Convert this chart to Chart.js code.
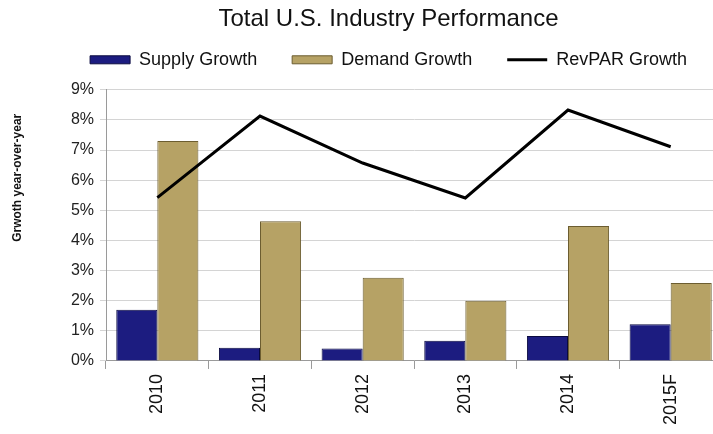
<!DOCTYPE html>
<html>
<head>
<meta charset="utf-8">
<title>Total U.S. Industry Performance</title>
<script src="https://cdn.jsdelivr.net/npm/chart.js@4/dist/chart.umd.min.js"></script>
<style>
	html, body { margin: 0; padding: 0; background: #fff; overflow: hidden; }
	/* the source picture cuts the last category a little short */
	#wrap { width: 722px; height: 434px; position: relative; }
</style>
</head>
<body>
<div id="wrap"><canvas id="bar-chartcanvas"></canvas></div>
<script>
var years = ["2010", "2011", "2012", "2013", "2014", "2015F"];
var supplyGrowth = [1.70, 0.44, 0.41, 0.67, 0.83, 1.22];
var demandGrowth = [7.30, 4.64, 2.76, 2.00, 4.48, 2.59];
var revparGrowth = [5.42, 8.13, 6.57, 5.41, 8.33, 7.11];
var yTicks = [0, 1, 2, 3, 4, 5, 6, 7, 8, 9];

var font = "Arial, 'Liberation Sans', sans-serif";

// vertical axis title sits a bit above the middle in the original
var yTitle = {
	id : "yTitle",
	afterInit : function(chart) {
		// a bit more room between legend and plot
		var lg = chart.legend;
		var fit = lg.fit;
		lg.fit = function() {
			fit.apply(this, arguments);
			this.height += 11;
		};
	},
	afterDraw : function(chart) {
		var c = chart.ctx;
		var a = chart.chartArea;
		c.save();
		c.translate(18, a.top + 88);
		c.rotate(-Math.PI / 2);
		c.font = "bold 12px " + font;
		c.fillStyle = "#111";
		c.textAlign = "center";
		c.textBaseline = "middle";
		c.fillText("Grwoth year-over-year", 0, 0);
		c.restore();
	}
};

var ctx = document.getElementById("bar-chartcanvas");

var data = {
	labels : years,
	datasets : [
		{
			label : "Supply Growth",
			data : supplyGrowth,
			backgroundColor : "#1c1c80",
			borderColor : "#0a0a40",
			borderWidth : 1,
			pointStyle : "rect",
			order : 1
		},
		{
			label : "Demand Growth",
			data : demandGrowth,
			backgroundColor : "#b6a265",
			borderColor : "#6c5d30",
			borderWidth : 1,
			pointStyle : "rect",
			order : 1
		},
		{
			type : "line",
			label : "RevPAR Growth",
			data : revparGrowth,
			borderColor : "#000",
			backgroundColor : "#000",
			borderWidth : 3,
			tension : 0,
			pointRadius : 0,
			pointStyle : "line",
			order : 0
		}
	]
};

var options = {
	responsive : true,
	maintainAspectRatio : false,
	animation : false,
	layout : {
		padding : { left : 55, right : 0, top : 0, bottom : 4 }
	},
	datasets : {
		bar : { categoryPercentage : 0.8, barPercentage : 1.0 }
	},
	plugins : {
		title : {
			display : true,
			text : "Total U.S. Industry Performance",
			color : "#111",
			font : { family : font, size : 24, weight : "normal" },
			padding : { top : 5, bottom : 7 }
		},
		legend : {
			display : true,
			position : "top",
			labels : {
				usePointStyle : true,
				pointStyleWidth : 40,
				boxHeight : 8,
				padding : 10,
				color : "#111",
				font : { family : font, size : 18 },
				generateLabels : function(chart) {
					var items = Chart.defaults.plugins.legend.labels.generateLabels(chart);
					// keep dataset order, not draw order
					items.sort(function(a, b) { return a.datasetIndex - b.datasetIndex; });
					items.forEach(function(it) {
						if (it.text != "RevPAR Growth") it.text = it.text + "     ";
					});
					return items;
				}
			}
		},
		tooltip : { enabled : false }
	},
	scales : {
		x : {
			grid : {
				display : true,
				drawOnChartArea : false,
				tickLength : 8,
				color : "#9a9a9a"
			},
			border : { color : "#9a9a9a" },
			ticks : {
				minRotation : 90,
				maxRotation : 90,
				color : "#111",
				padding : 5,
				font : { family : font, size : 18 }
			}
		},
		y : {
			min : yTicks[0],
			max : yTicks[yTicks.length - 1],
			afterBuildTicks : function(axis) {
				axis.ticks = yTicks.map(function(v) { return { value : v }; });
			},
			afterFit : function(axis) {
				axis.width = 51;
			},
			grid : {
				color : "#d4d4d4",
				tickLength : 6
			},
			border : { color : "#9a9a9a" },
			ticks : {
				color : "#222",
				padding : 6,
				font : { family : font, size : 16 },
				callback : function(v) { return v + "%"; }
			}
		}
	}
};

var chart = new Chart(ctx, {
	type : "bar",
	data : data,
	options : options,
	plugins : [yTitle]
});
</script>
</body>
</html>
